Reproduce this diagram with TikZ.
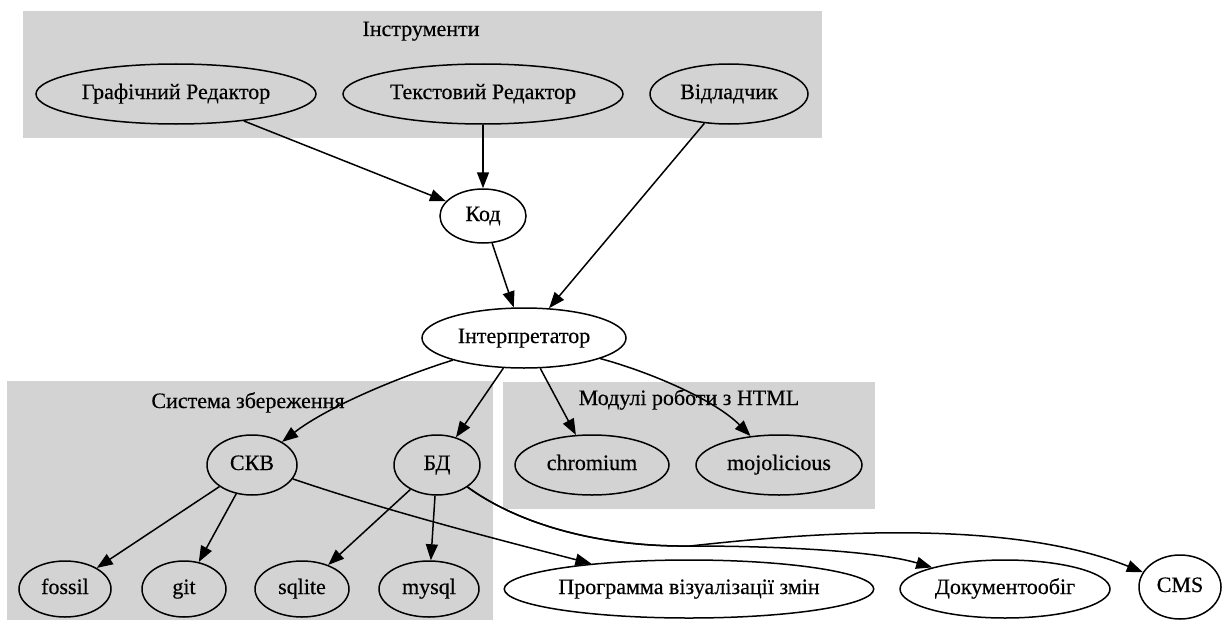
\documentclass[tikz,border=0pt]{standalone}
\usepackage{fontspec}
\setmainfont{Liberation Serif}[FakeBold=0.4]
\usetikzlibrary{shapes.geometric,arrows.meta}
\definecolor{clgray}{HTML}{D3D3D3}
\tikzset{
  nd/.style={ellipse, draw=black, line width=1.5pt, inner sep=0pt, text height=14pt, text depth=4pt, font=\fontsize{22}{26}\selectfont},
  wnd/.style={nd, fill=white},
  lbl/.style={font=\fontsize{22}{26}\selectfont, inner sep=0pt, text height=14pt, text depth=4pt},
  conn/.style={line width=1.5pt, -{Triangle[length=16pt,width=12pt]}},
  cluster/.style={fill=clgray, draw=none}
}
\begin{document}
\begin{tikzpicture}[x=1pt,y=-1pt]
\useasboundingbox (0,0) rectangle (1225,626);
\fill[white] (0,0) rectangle (1225,626);
% clusters
\fill[cluster] (23,11) rectangle (822,138);
\fill[cluster] (7,381) rectangle (493,620);
\fill[cluster] (503,382) rectangle (875,509);
\node[lbl] (lInstr) at (421,31) {Інструменти};
\node[lbl] (lSys) at (248,403) {Система збереження};
\node[lbl] (lMod) at (689,400) {Модулі роботи з HTML};
% nodes
\node[nd, minimum width=280pt, minimum height=60pt] (gr) at (176,94) {Графічний Редактор};
\node[nd, minimum width=280pt, minimum height=60pt] (tx) at (483,94) {Текстовий Редактор};
\node[nd, minimum width=158pt, minimum height=60pt] (vd) at (729,94) {Відладчик};
\node[wnd, minimum width=86pt, minimum height=54pt] (kod) at (483,216) {Код};
\node[wnd, minimum width=204pt, minimum height=60pt] (int) at (524,338) {Інтерпретатор};
\node[nd, minimum width=90pt, minimum height=60pt] (skv) at (252,465) {СКВ};
\node[nd, minimum width=86pt, minimum height=60pt] (bd) at (437,465) {БД};
\node[nd, minimum width=154pt, minimum height=60pt] (chr) at (592,465) {chromium};
\node[nd, minimum width=166pt, minimum height=60pt] (moj) at (779,465) {mojolicious};
\node[nd, minimum width=92pt, minimum height=56pt] (fos) at (65,589) {fossil};
\node[nd, minimum width=84pt, minimum height=56pt] (git) at (184,589) {git};
\node[nd, minimum width=94pt, minimum height=56pt] (sql) at (302,589) {sqlite};
\node[nd, minimum width=100pt, minimum height=56pt] (mys) at (429,589) {mysql};
\node[wnd, minimum width=362pt, minimum height=58pt] (prg) at (689,589) {Программа візуалізації змін};
\node[wnd, minimum width=210pt, minimum height=58pt] (doc) at (1005,589) {Документообіг};
\node[wnd, minimum width=82pt, minimum height=64pt] (cms) at (1180,587) {CMS};
% edges
\draw[conn] (gr) -- (kod);
\draw[conn] (tx) -- (kod);
\draw[conn] (vd) -- (int);
\draw[conn] (kod) -- (int);
\draw[conn] (int) .. controls (405,375) and (330,405) .. (skv);
\draw[conn] (int) -- (bd);
\draw[conn] (int) -- (chr);
\draw[conn] (int) .. controls (650,372) and (715,400) .. (moj);
\draw[conn] (skv) -- (fos);
\draw[conn] (skv) -- (git);
\draw[conn] (bd) -- (sql);
\draw[conn] (bd) -- (mys);
\draw[conn] (skv) .. controls (390,512) and (500,540) .. (prg);
\draw[conn] (bd) .. controls (520,525) and (600,547) .. (690,546) .. controls (790,546) and (880,552) .. (doc);
\draw[conn] (bd) .. controls (520,525) and (600,547) .. (690,546) .. controls (790,535) and (1000,515) .. (cms);
\end{tikzpicture}
\end{document}
